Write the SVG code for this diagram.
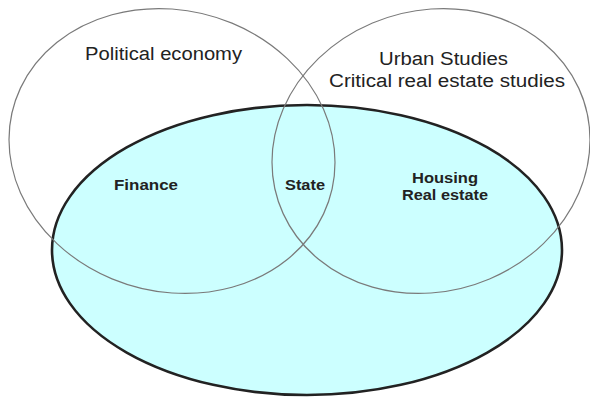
<svg xmlns="http://www.w3.org/2000/svg" width="590" height="397" viewBox="0 0 590 397">
  <style>
    .field { fill: none; stroke: #7a7a7a; stroke-width: 1.2; }
    .core { fill: #ccffff; stroke: #222; stroke-width: 2.6; }
    .title { font-family: "Liberation Sans", Arial, sans-serif; font-size: 18px; fill: #222; }
    .topic { font-family: "Liberation Sans", Arial, sans-serif; font-size: 14px; font-weight: bold; fill: #222; }
  </style>

  <!-- large base ellipse: the housing / real-estate domain -->
  <g id="core-domain">
    <ellipse class="core" cx="307" cy="250" rx="255" ry="145"/>
  </g>

  <!-- left field: political economy -->
  <g id="political-economy">
    <ellipse class="field" transform="translate(172,151) skewY(4)" cx="0" cy="0" rx="163" ry="142"/>
    <text class="title" x="85" y="60" textLength="157" lengthAdjust="spacingAndGlyphs">Political economy</text>
  </g>

  <!-- right field: urban studies -->
  <g id="urban-studies">
    <ellipse class="field" transform="translate(431,151) skewY(-4)" cx="0" cy="0" rx="159" ry="142"/>
    <text class="title" x="379" y="65" textLength="129" lengthAdjust="spacingAndGlyphs">Urban Studies</text>
    <text class="title" x="329" y="87" textLength="236" lengthAdjust="spacingAndGlyphs">Critical real estate studies</text>
  </g>

  <!-- topics inside the overlaps -->
  <g id="topics">
    <text class="topic" x="114" y="190" textLength="64" lengthAdjust="spacingAndGlyphs">Finance</text>
    <text class="topic" x="285" y="190" textLength="40" lengthAdjust="spacingAndGlyphs">State</text>
    <text class="topic" x="412" y="183" textLength="66" lengthAdjust="spacingAndGlyphs">Housing</text>
    <text class="topic" x="402" y="200" textLength="86" lengthAdjust="spacingAndGlyphs">Real estate</text>
  </g>
</svg>
